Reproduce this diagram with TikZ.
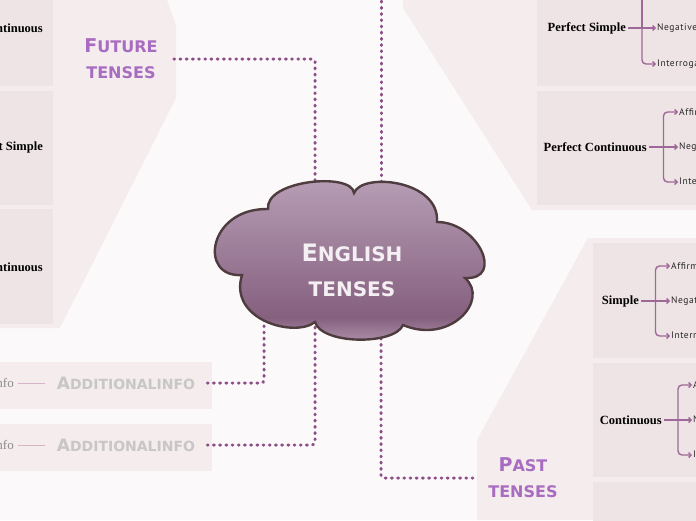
\documentclass[tikz,border=0pt]{standalone}
\usepackage{fontspec}
\usetikzlibrary{arrows.meta,backgrounds,calc}
\newfontfamily\labelfont{Liberation Serif}
\newfontfamily\subfont{PT Sans}[LetterSpace=6]
\newfontfamily\headfont{DejaVu Sans}

\begin{document}
\begin{tikzpicture}[x=1pt,y=-1pt,
  tense/.style={font=\labelfont\bfseries\fontsize{12.5}{12.5}\selectfont, anchor=east, inner sep=2pt},
  sub/.style={font=\subfont\fontsize{9.5}{9.5}\selectfont, anchor=west, inner sep=1pt, text=black!85},
  brk/.style={draw=brkline, line width=1.4pt, rounded corners=4pt, -{Straight Barb[length=2.5pt,width=5pt]}},
  dotline/.style={draw=dotcol, line width=3pt, line cap=round, dash pattern=on 0.9pt off 5.3pt, rounded corners=3pt},
  head/.style={font=\headfont\bfseries\fontsize{16}{26}\selectfont, text=headcol, align=center},
  info/.style={font=\headfont\bfseries\fontsize{14}{14}\selectfont, text=infotext, inner xsep=12pt}]
  % Define colors
  \definecolor{bgcol}{RGB}{252,249,250}
  \definecolor{panel}{RGB}{244,236,237}
  \definecolor{box}{RGB}{239,228,229}
  \definecolor{headcol}{RGB}{168,108,192}
  \definecolor{dotcol}{RGB}{140,78,135}
  \definecolor{brkline}{RGB}{158,104,152}
  \definecolor{cloudline}{RGB}{78,60,62}
  \definecolor{infotext}{RGB}{200,198,198}
  \definecolor{infoline}{RGB}{215,180,200}
  \definecolor{ctop}{RGB}{185,160,183}
  \definecolor{cdark}{RGB}{133,96,127}
  \definecolor{cbot}{RGB}{172,143,168}
  \pgfdeclareverticalshading{cloudshade}{100bp}{color(0bp)=(cbot); color(26bp)=(cbot);
    color(33bp)=(cdark); color(75bp)=(ctop); color(100bp)=(ctop)}

  \useasboundingbox (0,0) rectangle (696,520);

  % Central cloud
  \shade[shading=cloudshade, draw=cloudline, line width=2.4pt]
    (268,209) .. controls (265,180) and (352,172) .. (354,193)
              .. controls (362,172) and (440,180) .. (437,222)
              .. controls (478,222) and (505,280) .. (465,278)
              .. controls (490,300) and (450,345) .. (403,325)
              .. controls (395,345) and (322,345) .. (315,322)
              .. controls (295,338) and (228,320) .. (242,275)
              .. controls (198,278) and (208,208) .. cycle;
  \node (cloud) [font=\headfont\bfseries\fontsize{20}{35}\selectfont, text=white!90!cdark, align=center]
    at (352,270) {{\fontsize{24}{24}\selectfont E}NGLISH\\TENSES};

  % Headings
  \node (future) [head, inner xsep=16pt] at (121,59) {{\fontsize{19}{19}\selectfont F}UTURE\\TENSES};
  \node (past) [head, inner xsep=10pt] at (523,478) {{\fontsize{19}{19}\selectfont P}AST\\TENSES};
  \coordinate (present) at (381,-5);

  % Additional info
  \foreach \nm/\y in {info1/383, info2/445} {
    \node (\nm) [info] at (126,\y) {{\fontsize{17}{17}\selectfont A}DDITIONALINFO};
    \node (\nm-l) [font=\labelfont\fontsize{13}{13}\selectfont, text=black!45, anchor=east, inner xsep=4pt]
      at (18,\y) {info};
    \draw[infoline, line width=0.6pt] (\nm-l.east) -- (\nm.west);
  }

  % Future tenses (cut off at the left)
  \node[tense] (lf1) at (45,28) {Continuous};
  \node[tense] (lf2) at (45,147) {Perfect Simple};
  \node[tense] (lf3) at (45,267) {Perfect Continuous};

  % Tenses with their three forms
  \node[tense] (ps) at (628,28) {Perfect Simple};
  \node[tense] (pc) at (649,147) {Perfect Continuous};
  \node[tense] (ss) at (641,301) {Simple};
  \node[tense] (sc) at (664,420) {Continuous};

  \node[sub] (ps-n) at (656,28) {Negative};
  \node[sub] (ps-i) at (656,64) {Interrogative};
  \coordinate (ps-m) at ($(ps.east)!0.5!(ps-n.west)$);
  \coordinate (ps-top) at (640,-6);
  \draw[brk] (ps-m) |- (ps-i.west);
  \draw[brk,-] (ps-m) -- (ps-m |- ps-top);
  \draw[brk] (ps.east) -- (ps-n.west);

  \foreach \g/\x/\y in {pc/678/147, ss/670/301, sc/692/420} {
    \node[sub] (\g-a) at (\x,\y-35) {Affirmative};
    \node[sub] (\g-n) at (\x,\y) {Negative};
    \node[sub] (\g-i) at (\x,\y+35) {Interrogative};
    \coordinate (\g-m) at ($(\g.east)!0.5!(\g-n.west)$);
    \draw[brk] (\g-m) |- (\g-a.west);
    \draw[brk] (\g-m) |- (\g-i.west);
    \draw[brk] (\g.east) -- (\g-n.west);
  }

  \begin{scope}[on background layer]
    \fill[bgcol] (0,0) rectangle (696,520);
    % Panels
    \fill[panel] (0,0) -- (167,0) -- (176,25) -- (176,98) -- (60,328) -- (0,328) -- cycle;
    \fill[panel] (403,0) -- (403,8) -- (532,210) -- (696,210) -- (696,0) -- cycle;
    \fill[panel] (588,238) -- (696,238) -- (696,520) -- (477,520) -- (477,440) -- cycle;
    \fill[panel] (0,362) rectangle (212,409);
    \fill[panel] (0,424) rectangle (212,471);
    \foreach \a/\b in {0/86, 91/205, 209/324}
      \fill[box] (0,\a) rectangle (53,\b);
    \foreach \a/\b in {0/86, 91/205}
      \fill[box] (537,\a) rectangle (696,\b);
    \foreach \a/\b in {243/358, 363/477, 482/525}
      \fill[box] (593,\a) rectangle (696,\b);
    % Connectors
    \draw[dotline] (future.east) -| ([xshift=-37pt]cloud.center);
    \draw[dotline] (present) -- ([xshift=29pt]cloud.center);
    \draw[dotline] (info1.east) -| ([xshift=-88pt]cloud.center);
    \draw[dotline] (info2.east) -| ([xshift=-37pt]cloud.center);
    \draw[dotline] ([xshift=29pt]cloud.center) |- (past.west);
  \end{scope}
\end{tikzpicture}
\end{document}
